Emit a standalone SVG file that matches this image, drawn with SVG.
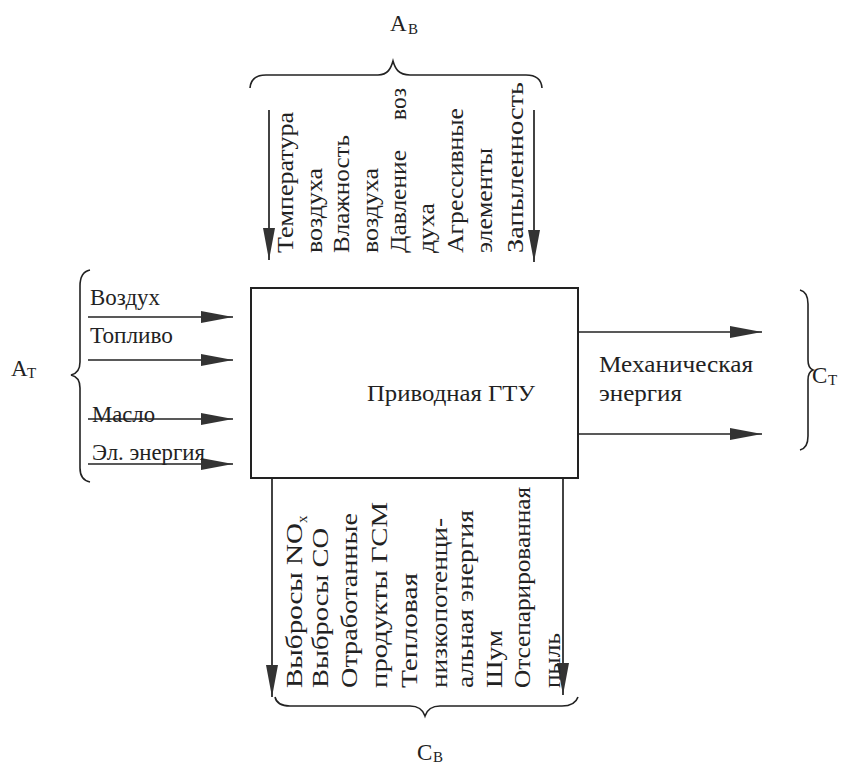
<svg xmlns="http://www.w3.org/2000/svg" width="849" height="768" viewBox="0 0 849 768">
<defs>
<style>
.t{font-family:"Liberation Serif","Tinos","Noto Serif","DejaVu Serif","FreeSerif","PT Serif","Nimbus Roman","Times New Roman",serif;font-size:23px;fill:#222}
.s{font-family:"Liberation Serif","Tinos","Noto Serif","DejaVu Serif","FreeSerif","PT Serif","Nimbus Roman","Times New Roman",serif;font-size:15px;fill:#222}
.ln{stroke:#222;stroke-width:1.7;fill:none}
.br{stroke:#222;stroke-width:1.6;fill:none}
</style>
<marker id="ah" viewBox="0 0 32 12" markerWidth="32" markerHeight="12" refX="32" refY="6" markerUnits="userSpaceOnUse" orient="auto">
<path d="M0,0 L32,6 L0,12 Z" fill="#333"/>
</marker>
</defs>
<rect width="849" height="768" fill="#fff"/>

<g id="main-node">
<rect x="251" y="288" width="327" height="190" fill="#fff" stroke="#222" stroke-width="2"/>
<text class="t" x="367" y="401" textLength="168" lengthAdjust="spacingAndGlyphs">Приводная ГТУ</text>
</g>

<g id="connectors">
<line class="ln" x1="88" y1="317" x2="233" y2="317" marker-end="url(#ah)"/>
<line class="ln" x1="88" y1="360" x2="233" y2="360" marker-end="url(#ah)"/>
<line class="ln" x1="88" y1="419" x2="233" y2="419" marker-end="url(#ah)"/>
<line class="ln" x1="88" y1="464" x2="233" y2="464" marker-end="url(#ah)"/>
<line class="ln" x1="578" y1="332" x2="762" y2="332" marker-end="url(#ah)"/>
<line class="ln" x1="578" y1="434" x2="762" y2="434" marker-end="url(#ah)"/>
<line class="ln" x1="269" y1="110" x2="269" y2="260" marker-end="url(#ah)"/>
<line class="ln" x1="534" y1="110" x2="534" y2="262" marker-end="url(#ah)"/>
<line class="ln" x1="272" y1="478" x2="272" y2="697" marker-end="url(#ah)"/>
<line class="ln" x1="563" y1="478" x2="563" y2="695" marker-end="url(#ah)"/>
</g>

<g id="inputs-left">
<text class="t" x="90" y="305" textLength="70" lengthAdjust="spacingAndGlyphs">Воздух</text>
<text class="t" x="90" y="343" textLength="83" lengthAdjust="spacingAndGlyphs">Топливо</text>
<text class="t" x="92" y="422" textLength="63" lengthAdjust="spacingAndGlyphs">Масло</text>
<text class="t" x="92" y="460" textLength="113" lengthAdjust="spacingAndGlyphs">Эл. энергия</text>
<path class="br" d="M90,270 Q80,272 80,286 L80,362 Q80,373 71,375 Q80,377 80,388 L80,468 Q80,480 90,482"/>
<text class="t" x="11" y="376">А</text>
<text class="s" x="27" y="378">Т</text>
</g>

<g id="outputs-right">
<text class="t" x="599" y="372" textLength="154" lengthAdjust="spacingAndGlyphs">Механическая</text>
<text class="t" x="599" y="401" textLength="83" lengthAdjust="spacingAndGlyphs">энергия</text>
<path class="br" d="M800,290 Q808,292 808,304 L808,360 Q808,368 813,370 Q808,372 808,380 L808,436 Q808,448 800,450"/>
<text class="t" x="812" y="383">С</text>
<text class="s" x="828" y="385">Т</text>
</g>

<g id="inputs-top">
<path class="br" d="M250,88 Q251,75 266,75 L378,75 C388,75 391,68 393,61 C395,68 398,75 410,75 L526,75 Q541,75 542,88"/>
<text class="t" x="390" y="31">А</text>
<text class="s" x="408" y="34">В</text>
<text class="t" transform="translate(293,253) rotate(-90)" textLength="141" lengthAdjust="spacingAndGlyphs">Температура</text>
<text class="t" transform="translate(322,253) rotate(-90)" textLength="85" lengthAdjust="spacingAndGlyphs">воздуха</text>
<text class="t" transform="translate(349,253) rotate(-90)" textLength="118" lengthAdjust="spacingAndGlyphs">Влажность</text>
<text class="t" transform="translate(378,253) rotate(-90)" textLength="85" lengthAdjust="spacingAndGlyphs">воздуха</text>
<text class="t" transform="translate(406,253) rotate(-90)"><tspan x="0" textLength="103" lengthAdjust="spacingAndGlyphs">Давление</tspan><tspan x="133" textLength="32" lengthAdjust="spacingAndGlyphs">воз</tspan></text>
<text class="t" transform="translate(434,253) rotate(-90)" textLength="50" lengthAdjust="spacingAndGlyphs">духа</text>
<text class="t" transform="translate(463,253) rotate(-90)" textLength="145" lengthAdjust="spacingAndGlyphs">Агрессивные</text>
<text class="t" transform="translate(492,253) rotate(-90)" textLength="105" lengthAdjust="spacingAndGlyphs">элементы</text>
<text class="t" transform="translate(523,253) rotate(-90)" textLength="171" lengthAdjust="spacingAndGlyphs">Запыленность</text>
</g>

<g id="outputs-bottom">
<path class="br" d="M275,697 Q277,706 290,706 L410,706 C418,706 423,710 425,716 C427,710 432,706 440,706 L562,706 Q575,706 578,697"/>
<text class="t" x="417" y="760">С</text>
<text class="s" x="433" y="762">В</text>
<text class="t" transform="translate(302,688) rotate(-90)" textLength="165" lengthAdjust="spacingAndGlyphs">Выбросы NO</text>
<text class="s" transform="translate(307,523) rotate(-90)">x</text>
<text class="t" transform="translate(328,688) rotate(-90)" textLength="160" lengthAdjust="spacingAndGlyphs">Выбросы СО</text>
<text class="t" transform="translate(357,688) rotate(-90)" textLength="175" lengthAdjust="spacingAndGlyphs">Отработанные</text>
<text class="t" transform="translate(387,688) rotate(-90)" textLength="186" lengthAdjust="spacingAndGlyphs">продукты ГСМ</text>
<text class="t" transform="translate(417,688) rotate(-90)" textLength="115" lengthAdjust="spacingAndGlyphs">Тепловая</text>
<text class="t" transform="translate(447,688) rotate(-90)" textLength="170" lengthAdjust="spacingAndGlyphs">низкопотенци-</text>
<text class="t" transform="translate(473,688) rotate(-90)" textLength="178" lengthAdjust="spacingAndGlyphs">альная энергия</text>
<text class="t" transform="translate(502,688) rotate(-90)" textLength="58" lengthAdjust="spacingAndGlyphs">Шум</text>
<text class="t" transform="translate(530,688) rotate(-90)" textLength="201" lengthAdjust="spacingAndGlyphs">Отсепарированная</text>
<text class="t" transform="translate(560,688) rotate(-90)" textLength="55" lengthAdjust="spacingAndGlyphs">пыль</text>
</g>
</svg>
